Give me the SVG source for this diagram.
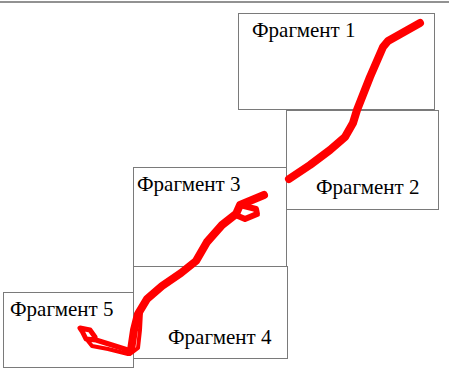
<svg xmlns="http://www.w3.org/2000/svg" width="449" height="380" viewBox="0 0 449 380">
<style>
.frag rect{fill:#fff;stroke:#7a7a7a;stroke-width:1}
.frag text{font-family:"Liberation Serif",serif;font-size:21px;fill:#000}
.trace{fill:none;stroke:#ff0000;stroke-linecap:round;stroke-linejoin:round}
</style>
<rect width="449" height="380" fill="#fff"/>
<line x1="0" y1="2" x2="449" y2="2" stroke="#6e6e6e" stroke-width="1.5"/>
<g id="fragment1" class="frag"><rect x="238.5" y="13.5" width="196" height="96"/><text x="252" y="37">Фрагмент 1</text></g>
<g id="fragment2" class="frag"><rect x="286.5" y="110.5" width="152" height="99"/><text x="316" y="194">Фрагмент 2</text></g>
<g id="fragment3" class="frag"><rect x="133.5" y="167.5" width="153" height="99"/><text x="137" y="191">Фрагмент 3</text></g>
<g id="fragment4" class="frag"><rect x="133.5" y="266.5" width="154" height="92"/><text x="168" y="344">Фрагмент 4</text></g>
<g id="fragment5" class="frag"><rect x="3.5" y="292.5" width="130" height="75"/><text x="10" y="316">Фрагмент 5</text></g>
<g id="connectors">
<path class="trace" stroke-width="8" d="M420,23 L388,41 L383,47 L370,77 L357,110 L353,123 L345,137 L330,150 L310,165 L289,179"/>
<path class="trace" stroke-width="8" d="M264,195 L240,205 L236,214 L222,225 L207,242 L196,261 L181,273 L162,286 L147,299 L138,314 L134,330 L131,350"/>
<path class="trace" stroke-width="6" d="M240,205 L256,209 L257,214 L245,219 L238,216"/>
<path class="trace" stroke-width="5" d="M131,351 L112,345 L96,340 L86,339 L82,331 L80,328 L90,330 L95,337"/>
<path class="trace" stroke-width="4" d="M128,354 L108,349 L92,346 L88,341 M141,312 L140,330 L138,348 L130,354"/>
</g>
</svg>
